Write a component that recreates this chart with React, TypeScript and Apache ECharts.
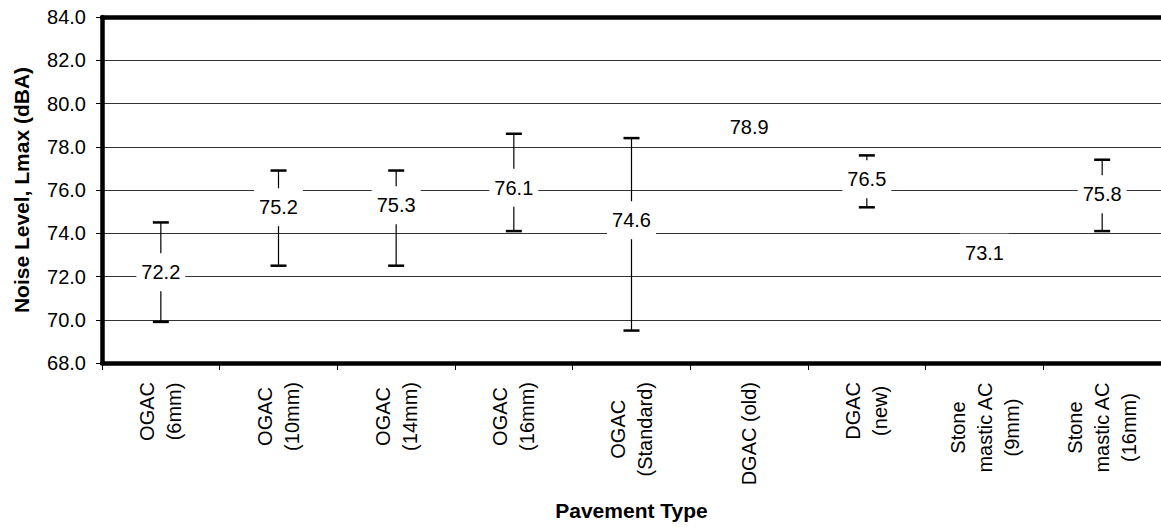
import React, { useEffect, useRef } from "react";
import * as echarts from "echarts";

const categories = [
  "OGAC\n(6mm)",
  "OGAC\n(10mm)",
  "OGAC\n(14mm)",
  "OGAC\n(16mm)",
  "OGAC\n(Standard)",
  "DGAC (old)",
  "DGAC\n(new)",
  "Stone\nmastic AC\n(9mm)",
  "Stone\nmastic AC\n(16mm)",
];
const means = [72.2, 75.2, 75.3, 76.1, 74.6, 78.9, 76.5, 73.1, 75.8];
const mins: (number | null)[] = [69.9, 72.5, 72.5, 74.1, 69.5, null, 75.2, null, 74.1];
const maxs: (number | null)[] = [74.5, 76.9, 76.9, 78.6, 78.4, null, 77.6, null, 77.4];
const yMin = 68;
const yMax = 84;
const yStep = 2;

const FONT = "'Liberation Sans', Arial, Helvetica, sans-serif";
const BORDER = { color: "#000", width: 4.5 };

export default function App() {
  const ref = useRef<HTMLDivElement>(null);

  useEffect(() => {
    if (!ref.current) return;
    const chart = echarts.init(ref.current, null, { renderer: "svg" });

    const errData = categories
      .map((_, i) => [i, mins[i], maxs[i]])
      .filter((d) => d[1] != null && d[2] != null);

    const option: any = {
      animation: false,
      backgroundColor: "#fff",
      grid: {
        left: 102,
        top: 17,
        right: -3,
        bottom: 164,
        show: false,
      },
      xAxis: [
        {
          type: "category",
          data: categories,
          boundaryGap: true,
          position: "bottom",
          name: "Pavement Type",
          nameLocation: "middle",
          nameGap: 137,
          nameTextStyle: { fontFamily: FONT, fontWeight: "bold", fontSize: 21, color: "#000" },
          axisLine: { show: true, lineStyle: BORDER },
          axisTick: { show: true, length: 7, lineStyle: { color: "#000", width: 1 } },
          splitLine: { show: false },
          axisLabel: {
            interval: 0,
            rotate: 90,
            margin: 19,
            color: "#000",
            fontFamily: FONT,
            fontSize: 20,
            formatter: (v: string) =>
              v
                .split("\n")
                .map((l) => `{c|${l}}`)
                .join("\n"),
            rich: {
              c: {
                align: "center",
                fontFamily: FONT,
                fontSize: 20,
                lineHeight: 27,
                color: "#000",
              },
            },
          },
        },
        {
          type: "category",
          data: categories,
          position: "top",
          axisLine: { show: true, lineStyle: BORDER },
          axisTick: { show: false },
          axisLabel: { show: false },
          splitLine: { show: false },
        },
      ],
      yAxis: {
        type: "value",
        min: yMin,
        max: yMax,
        interval: yStep,
        name: "Noise Level, Lmax (dBA)",
        nameLocation: "middle",
        nameGap: 70,
        nameTextStyle: { fontFamily: FONT, fontWeight: "bold", fontSize: 21, color: "#000" },
        axisLine: { show: true, lineStyle: BORDER },
        axisTick: { show: true, length: 6, lineStyle: { color: "#000", width: 1 } },
        axisLabel: {
          margin: 16,
          color: "#000",
          fontFamily: FONT,
          fontSize: 20,
          formatter: (v: number) => v.toFixed(1),
        },
        splitLine: {
          show: true,
          showMinLine: false,
          showMaxLine: false,
          lineStyle: { color: "#333", width: 1 },
        },
      },
      series: [
        {
          type: "custom",
          z: 2,
          data: errData,
          renderItem: (params: any, api: any) => {
            const i = api.value(0);
            const top = api.coord([i, api.value(2)]);
            const bot = api.coord([i, api.value(1)]);
            const x = top[0];
            const half = 8;
            return {
              type: "group",
              children: [
                {
                  type: "line",
                  shape: { x1: x, y1: top[1], x2: x, y2: bot[1] },
                  style: { stroke: "#000", lineWidth: 1.2 },
                },
                {
                  type: "line",
                  shape: { x1: x - half, y1: top[1], x2: x + half, y2: top[1] },
                  style: { stroke: "#000", lineWidth: 2.5 },
                },
                {
                  type: "line",
                  shape: { x1: x - half, y1: bot[1], x2: x + half, y2: bot[1] },
                  style: { stroke: "#000", lineWidth: 2.5 },
                },
              ],
            };
          },
        },
        {
          type: "scatter",
          z: 5,
          data: means,
          symbolSize: 1,
          itemStyle: { color: "#fff", opacity: 1 },
          emphasis: { disabled: true },
          label: {
            show: true,
            position: "inside",
            formatter: (p: any) => Number(p.value).toFixed(1),
            backgroundColor: "#ffffff",
            padding: [9, 5],
            color: "#000",
            opacity: 1,
            textBorderWidth: 0,
            textBorderColor: "transparent",
            fontFamily: FONT,
            fontSize: 20,
          },
        },
      ],
    };

    chart.setOption(option);
    return () => chart.dispose();
  }, []);

  return (
    <div
      ref={ref}
      style={{ position: "fixed", left: 0, top: 0, width: 1161, height: 527, background: "#fff" }}
    />
  );
}
